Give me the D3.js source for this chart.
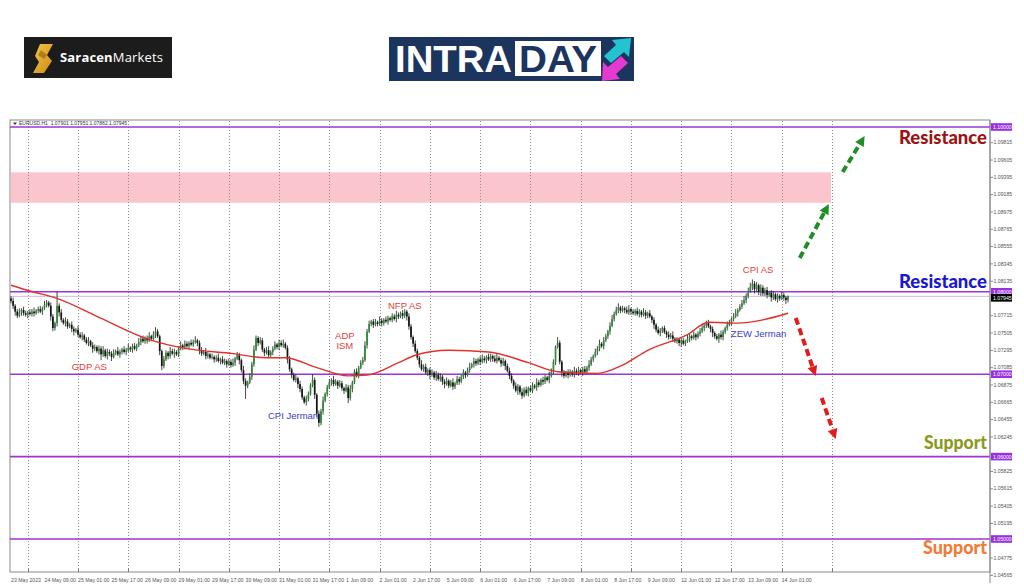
<!DOCTYPE html>
<html>
<head>
<meta charset="utf-8">
<script src="https://d3js.org/d3.v7.min.js"></script>
<style>
  body { margin:0; background:#fff; }
  svg text { font-family: "Liberation Sans", Arial, sans-serif; }
</style>
</head>
<body>
<script>
// ---- data (EURUSD H1) ----
var firstOpen = 1.0792;
var closes = [
  1.0789,1.0783,1.0776,1.0771,1.0775,1.0778,1.0774,1.0772,1.0775,1.0773,1.0776,1.0774,1.0777,1.0779,1.0776,1.0780,1.0784,1.0787,1.0783,1.0770,1.0756,1.0762,1.0783,1.0775,
  1.0766,1.0762,1.0764,1.0758,1.0760,1.0755,1.0752,1.0754,1.0748,1.0745,1.0747,1.0742,1.0738,1.0740,1.0735,1.0731,1.0733,1.0728,1.0731,1.0724,1.0729,1.0722,1.0727,1.0725,
  1.0721,1.0726,1.0728,1.0724,1.0727,1.0730,1.0727,1.0729,1.0732,1.0730,1.0734,1.0731,1.0735,1.0739,1.0743,1.0740,1.0744,1.0741,1.0746,1.0743,1.0748,1.0752,1.0746,1.0728,
  1.0710,1.0718,1.0726,1.0722,1.0728,1.0725,1.0727,1.0724,1.0731,1.0735,1.0733,1.0737,1.0734,1.0738,1.0736,1.0739,1.0741,1.0738,1.0729,1.0725,1.0727,1.0722,1.0724,1.0720,
  1.0721,1.0718,1.0720,1.0716,1.0718,1.0714,1.0716,1.0712,1.0715,1.0711,1.0714,1.0719,1.0723,1.0717,1.0705,1.0692,1.0686,1.0690,1.0697,1.0712,1.0730,1.0744,1.0738,1.0741,
  1.0730,1.0726,1.0729,1.0723,1.0727,1.0731,1.0736,1.0733,1.0738,1.0735,1.0737,1.0732,1.0718,1.0706,1.0699,1.0693,1.0695,1.0688,1.0682,1.0672,1.0666,1.0670,1.0676,1.0687,
  1.0693,1.0675,1.0652,1.0641,1.0655,1.0668,1.0676,1.0684,1.0690,1.0693,1.0688,1.0691,1.0686,1.0689,1.0683,1.0680,1.0684,1.0671,1.0682,1.0690,1.0703,1.0699,1.0708,1.0714,
  1.0717,1.0735,1.0752,1.0761,1.0764,1.0760,1.0763,1.0761,1.0765,1.0762,1.0766,1.0764,1.0768,1.0766,1.0770,1.0767,1.0772,1.0770,1.0774,1.0771,1.0776,1.0770,1.0758,1.0745,
  1.0737,1.0728,1.0720,1.0712,1.0706,1.0709,1.0702,1.0705,1.0699,1.0702,1.0696,1.0699,1.0694,1.0697,1.0691,1.0688,1.0692,1.0686,1.0690,1.0685,1.0689,1.0694,1.0691,1.0697,
  1.0702,1.0699,1.0705,1.0709,1.0712,1.0716,1.0713,1.0718,1.0715,1.0719,1.0717,1.0721,1.0718,1.0722,1.0719,1.0716,1.0720,1.0717,1.0713,1.0716,1.0710,1.0704,1.0698,1.0692,
  1.0686,1.0680,1.0685,1.0678,1.0674,1.0681,1.0677,1.0683,1.0680,1.0686,1.0684,1.0690,1.0687,1.0693,1.0691,1.0696,1.0693,1.0698,1.0703,1.0715,1.0733,1.0738,1.0715,1.0702,
  1.0698,1.0702,1.0699,1.0703,1.0700,1.0704,1.0701,1.0705,1.0702,1.0706,1.0703,1.0708,1.0712,1.0718,1.0722,1.0727,1.0731,1.0737,1.0734,1.0741,1.0746,1.0752,1.0759,1.0767,
  1.0773,1.0778,1.0781,1.0777,1.0780,1.0778,1.0775,1.0779,1.0776,1.0774,1.0777,1.0773,1.0776,1.0772,1.0775,1.0771,1.0774,1.0770,1.0766,1.0760,1.0754,1.0750,1.0753,1.0756,
  1.0751,1.0748,1.0745,1.0747,1.0743,1.0740,1.0742,1.0738,1.0741,1.0737,1.0740,1.0743,1.0746,1.0744,1.0748,1.0745,1.0749,1.0752,1.0756,1.0759,1.0762,1.0758,1.0755,1.0750,
  1.0746,1.0743,1.0748,1.0745,1.0751,1.0756,1.0760,1.0763,1.0767,1.0770,1.0774,1.0778,1.0782,1.0786,1.0790,1.0795,1.0801,1.0806,1.0810,1.0803,1.0808,1.0800,1.0805,1.0798,
  1.0802,1.0796,1.0799,1.0793,1.0797,1.0791,1.0795,1.0792,1.0796,1.0793,1.0790,1.07945
];
// wick lengths in pips above / below the body
var wickUp = [
  3,4,2,3,5,2,4,3,2,4,3,5,2,3,4,2,5,3,2,4,3,2,17,3,
  4,2,5,3,2,4,3,2,5,3,4,2,3,5,2,4,3,2,4,3,5,2,4,3,
  3,4,2,5,3,2,4,3,5,2,3,4,2,5,3,4,2,3,5,2,4,5,3,2,
  2,4,3,2,5,3,4,2,3,5,2,4,3,2,4,3,5,2,3,4,2,5,3,2,
  4,2,3,5,2,4,3,2,4,3,5,2,4,3,2,5,3,2,4,3,5,3,2,4,
  3,2,4,5,2,3,4,2,4,3,5,2,3,4,2,3,5,2,4,3,2,4,3,2,
  7,3,2,4,3,5,2,3,4,2,5,3,2,4,3,2,4,3,5,2,3,4,2,3,
  4,5,3,4,2,3,4,2,5,3,2,4,3,2,4,3,5,3,2,4,3,2,4,3,
  2,4,3,2,5,3,4,2,3,4,2,5,3,4,2,3,4,2,3,5,2,4,3,2,
  4,2,3,5,2,4,3,2,4,5,3,2,4,3,2,4,5,2,3,4,2,3,4,3,
  2,4,3,2,5,3,4,2,3,4,2,5,3,2,4,3,2,5,4,3,2,7,3,2,
  3,2,4,3,2,5,3,4,2,3,4,2,5,3,2,4,3,5,2,4,3,2,4,5,
  3,4,5,2,3,2,4,5,2,3,2,4,3,2,5,3,2,4,2,3,2,4,3,2,
  3,2,4,3,5,2,3,2,4,3,2,5,3,2,4,2,3,4,5,2,3,4,2,3,
  2,3,2,5,3,2,4,3,2,4,5,2,3,4,5,3,4,5,5,3,4,2,4,3,
  3,4,2,3,4,2,3,2,4,3,2,1
];
var wickDn = [
  3,4,5,3,2,4,3,2,4,2,3,4,2,3,2,4,2,3,2,5,4,3,4,5,
  3,2,4,3,2,4,5,2,3,2,4,3,2,4,2,5,3,2,4,7,3,2,4,3,
  5,2,3,2,4,3,2,4,2,3,4,2,3,2,4,2,3,4,2,3,2,4,2,5,
  5,3,2,4,3,2,5,2,3,2,4,3,2,4,2,3,2,4,5,3,2,4,3,2,
  2,4,3,2,4,2,3,4,2,3,2,4,2,5,3,4,16,3,2,4,3,2,4,2,
  3,4,2,3,2,4,2,3,4,2,3,2,5,3,4,2,3,5,4,3,2,4,3,2,
  3,5,4,5,3,4,2,3,2,4,3,2,4,2,3,4,2,6,3,4,2,3,4,2,
  3,2,4,2,3,4,2,3,2,4,3,2,4,2,3,2,4,3,2,4,3,5,4,3,
  4,2,3,4,2,3,2,4,5,2,3,4,2,3,4,5,2,3,2,4,3,2,4,2,
  3,4,2,3,2,4,3,2,4,2,3,4,2,3,4,2,3,2,4,3,5,2,4,3,
  4,2,5,3,4,2,3,4,2,3,2,4,3,2,4,3,2,4,2,3,4,2,3,5,
  3,2,4,2,3,4,2,3,2,4,3,2,4,2,3,2,4,3,2,4,2,3,4,2,
  3,2,4,3,2,4,2,3,4,2,3,2,4,3,2,4,3,2,4,5,3,2,4,3,
  2,4,3,2,4,2,3,4,5,2,3,2,4,3,2,4,2,3,2,4,3,2,4,5,
  3,2,5,3,4,2,3,2,4,3,2,4,2,3,2,4,3,2,4,5,3,4,5,3,
  3,4,2,5,3,2,4,3,2,4,5,3
];
// moving average, [bar, value]
var maPoints = [[0,1.0808],[9,1.0801],[22,1.0792],[42,1.0769],[66,1.0742],[84,1.0731],[106,1.0725],
  [122,1.0720],[131,1.0720],[146,1.0708],[161,1.0698],[170,1.0699],[185,1.0714],[193,1.0723],
  [209,1.0729],[228,1.0727],[247,1.0714],[261,1.0703],[280,1.0701],[292,1.0711],[304,1.0729],
  [323,1.0748],[333,1.0763],[347,1.0762],[359,1.0766],[371,1.0774]];

var levels = [1.10, 1.08, 1.07, 1.06, 1.05];
var lastPrice = 1.07945;
var zone = [1.0908, 1.0945];
var priceTicks = [1.09815,1.09605,1.09395,1.09185,1.08975,1.08765,1.08555,1.08345,1.08135,
  1.07715,1.07505,1.07295,1.07085,1.06875,1.06665,1.06455,1.06245,
  1.05825,1.05615,1.05405,1.05195,1.04775,1.04565];
var timeLabels = ["23 May 2023","24 May 09:00","25 May 01:00","25 May 17:00","26 May 09:00",
  "29 May 01:00","29 May 17:00","30 May 09:00","31 May 01:00","31 May 17:00","1 Jun 09:00",
  "2 Jun 01:00","2 Jun 17:00","5 Jun 09:00","6 Jun 01:00","6 Jun 17:00","7 Jun 09:00",
  "8 Jun 01:00","8 Jun 17:00","9 Jun 09:00","12 Jun 01:00","12 Jun 17:00","13 Jun 09:00","14 Jun 01:00"];
var header = "EURUSD,H1  1.07901 1.07951 1.07882 1.07945";

// event notes: text, bar, price(baseline), colour, anchor
var notes = [
  ["GDP AS", 29, 1.07051, "#e0413b", "start"],
  ["CPI Jerman", 122.7, 1.06456, "#3b3bcf", "start"],
  ["ADP", 159.4, 1.07427, "#e0413b", "middle"],
  ["ISM", 159.4, 1.07306, "#e0413b", "middle"],
  ["NFP AS", 180, 1.07791, "#e0413b", "start"],
  ["CPI AS", 349.4, 1.08228, "#e0413b", "start"],
  ["ZEW Jerman", 343.7, 1.07451, "#3b3bcf", "start"]
];
var bigLabels = [
  ["Resistance", 1.09794, "#9a1414", 88],
  ["Resistance", 1.08046, "#1818d2", 88],
  ["Support", 1.06092, "#8b9a1c", 63],
  ["Support", 1.04818, "#f27a37", 64]
];
// arrows: [bar0, price0, bar1, price1, colour]
var arrows = [
  [376.6, 1.08410, 390.5, 1.09066, "#1f8f25"],
  [397.1, 1.09454, 407.6, 1.09891, "#1f8f25"],
  [374.7, 1.07682, 384.2, 1.06978, "#e31b1b"],
  [387.1, 1.06711, 393.8, 1.06214, "#e31b1b"]
];

// ---- drawing ----
var W = 1024, H = 587;
var plot = {left: 10, right: 990, top: 120, bottom: 572};
var svg = d3.select("body").append("svg").attr("width", W).attr("height", H);

var x = d3.scaleLinear().domain([0, 392]).range([11, 832]);
var y = d3.scaleLinear().domain([1.05, 1.10]).range([539, 127]);
var pip = 0.0001;

var bars = closes.map(function(c, i) {
  var o = i === 0 ? firstOpen : closes[i - 1];
  return {i: i, o: o, c: c,
    h: Math.max(o, c) + wickUp[i] * pip,
    l: Math.min(o, c) - wickDn[i] * pip};
});

// logos
var lg = svg.append("g");
lg.append("rect").attr("x", 24).attr("y", 37).attr("width", 148).attr("height", 41).attr("fill", "#1c1c1c");
var grad = svg.append("defs").append("linearGradient").attr("id", "gold")
  .attr("x1", 0).attr("y1", 0).attr("x2", 1).attr("y2", 1);
grad.append("stop").attr("offset", 0).attr("stop-color", "#f7c948");
grad.append("stop").attr("offset", 1).attr("stop-color", "#c98a12");
lg.append("path").attr("d", "M40,44 L53,44 L47,55 L52,61 L44,73 L33,73 L39,62 L35,56 Z").attr("fill", "url(#gold)");
lg.append("path").attr("d", "M41,50 L47,55 L44,59 L38,55 Z").attr("fill", "#8a5c08").attr("opacity", 0.6);
var st = lg.append("text").attr("x", 60).attr("y", 62).attr("font-size", 13).attr("fill", "#fff")
  .attr("textLength", 103).style("font-family", "'Open Sans', sans-serif");
st.append("tspan").attr("font-weight", "bold").text("Saracen");
st.append("tspan").text("Markets");

var ig = svg.append("g");
ig.append("rect").attr("x", 389).attr("y", 37).attr("width", 245).attr("height", 44).attr("fill", "#1c355e");
ig.append("text").attr("x", 395).attr("y", 72).attr("font-size", 37).attr("font-weight", "bold")
  .attr("fill", "#fff").attr("textLength", 117).attr("lengthAdjust", "spacingAndGlyphs").text("INTRA");
ig.append("rect").attr("x", 515).attr("y", 41).attr("width", 86).attr("height", 35).attr("fill", "#fff");
ig.append("text").attr("x", 519).attr("y", 72).attr("font-size", 37).attr("font-weight", "bold")
  .attr("fill", "#1c355e").attr("textLength", 78).attr("lengthAdjust", "spacingAndGlyphs").text("DAY");
ig.append("polygon").attr("points", "604,56 616,45 612,40 631,38 629,57 624,52 611,63").attr("fill", "#23c4d0");
ig.append("polygon").attr("points", "628,63 616,74 620,79 602,81 603,62 608,67 621,56").attr("fill", "#e43ad0");

// chart frame
svg.append("rect").attr("x", plot.left).attr("y", plot.top)
  .attr("width", plot.right - plot.left).attr("height", plot.bottom - plot.top)
  .attr("fill", "none").attr("stroke", "#8a8a8a").attr("stroke-width", 1);

// resistance zone
svg.append("rect").attr("x", plot.left + 1).attr("y", y(zone[1]))
  .attr("width", x(391.5) - plot.left - 1).attr("height", y(zone[0]) - y(zone[1]))
  .attr("fill", "#fbc5cd");

// vertical dotted grid every 24 bars
var gridBars = d3.range(8, 393, 24);
svg.selectAll(".vgrid").data(gridBars).enter().append("line")
  .attr("class", "vgrid")
  .attr("x1", function(d) { return Math.round(x(d)) + 0.5; })
  .attr("x2", function(d) { return Math.round(x(d)) + 0.5; })
  .attr("y1", plot.top + 1).attr("y2", plot.bottom)
  .attr("stroke", "#8c8c8c").attr("stroke-width", 1).attr("stroke-dasharray", "1,2");

// bid line
svg.append("line").attr("x1", plot.left).attr("x2", plot.right)
  .attr("y1", y(lastPrice)).attr("y2", y(lastPrice))
  .attr("stroke", "#cbbbdc").attr("stroke-width", 1);

// horizontal levels
svg.selectAll(".lvl").data(levels).enter().append("line")
  .attr("class", "lvl")
  .attr("x1", plot.left).attr("x2", plot.right)
  .attr("y1", function(d) { return y(d); }).attr("y2", function(d) { return y(d); })
  .attr("stroke", "#9c34d8").attr("stroke-width", 1.6);

// candles
var cg = svg.append("g");
cg.selectAll(".wick").data(bars).enter().append("line")
  .attr("x1", function(d) { return x(d.i); }).attr("x2", function(d) { return x(d.i); })
  .attr("y1", function(d) { return y(d.h); }).attr("y2", function(d) { return y(d.l); })
  .attr("stroke", "#1a1a1a").attr("stroke-width", 0.8);
cg.selectAll(".body").data(bars).enter().append("rect")
  .attr("x", function(d) { return x(d.i) - 0.85; })
  .attr("width", 1.7)
  .attr("y", function(d) { return y(Math.max(d.o, d.c)); })
  .attr("height", function(d) { return Math.max(0.8, Math.abs(y(d.o) - y(d.c))); })
  .attr("fill", function(d) { return d.c >= d.o ? "#2f8a35" : "#151515"; });

// moving average
var maLine = d3.line()
  .x(function(d) { return x(d[0]); })
  .y(function(d) { return y(d[1]); })
  .curve(d3.curveMonotoneX);
svg.append("path").datum(maPoints).attr("d", maLine)
  .attr("fill", "none").attr("stroke", "#e0302a").attr("stroke-width", 1.4);

// right price axis
var yAxis = d3.axisRight(y).tickValues(priceTicks).tickFormat(d3.format(".5f")).tickSize(3);
var ya = svg.append("g").attr("transform", "translate(" + plot.right + ",0)").call(yAxis);
ya.select(".domain").attr("stroke", "#8a8a8a").attr("d", "M0," + plot.top + "V" + (H - 4));
ya.selectAll(".tick line").attr("stroke", "#8a8a8a");
ya.selectAll(".tick text").attr("font-size", 5.2).attr("fill", "#555").attr("x", 3.5);

// level boxes on axis
var lb = svg.selectAll(".lbox").data(levels).enter().append("g")
  .attr("transform", function(d) { return "translate(" + (plot.right + 1) + "," + y(d) + ")"; });
lb.append("rect").attr("x", 0).attr("y", -3.8).attr("width", 21).attr("height", 7.6).attr("fill", "#9a2fe0");
lb.append("text").attr("x", 2).attr("y", 2).attr("font-size", 5.2).attr("fill", "#fff")
  .text(function(d) { return d3.format(".5f")(d); });
var lp = svg.append("g").attr("transform", "translate(" + (plot.right + 1) + "," + (y(lastPrice) + 1.5) + ")");
lp.append("rect").attr("x", 0).attr("y", -3.8).attr("width", 21).attr("height", 7.6).attr("fill", "#000");
lp.append("text").attr("x", 2).attr("y", 2).attr("font-size", 5.2).attr("fill", "#fff")
  .text(d3.format(".5f")(lastPrice));

// bottom time axis
svg.selectAll(".xtick").data(gridBars).enter().append("line")
  .attr("x1", function(d) { return Math.round(x(d)) + 0.5; })
  .attr("x2", function(d) { return Math.round(x(d)) + 0.5; })
  .attr("y1", plot.bottom - 3).attr("y2", plot.bottom)
  .attr("stroke", "#777");
svg.selectAll(".xlab").data(timeLabels).enter().append("text")
  .attr("x", function(d, i) { return x(i * 16); })
  .attr("y", plot.bottom + 10)
  .attr("font-size", 5.2).attr("fill", "#555")
  .text(function(d) { return d; });

// header
svg.append("path").attr("d", "M13,122.5 L17,122.5 L15,125 Z").attr("fill", "#333");
svg.append("text").attr("x", 19).attr("y", 125).attr("font-size", 5).attr("fill", "#333")
  .attr("xml:space", "preserve").text(header);

// event notes
svg.selectAll(".note").data(notes).enter().append("text")
  .attr("x", function(d) { return x(d[1]); })
  .attr("y", function(d) { return y(d[2]); })
  .attr("text-anchor", function(d) { return d[4]; })
  .attr("font-size", 9.5).attr("fill", function(d) { return d[3]; })
  .text(function(d) { return d[0]; });

// big labels
svg.selectAll(".big").data(bigLabels).enter().append("text")
  .attr("x", function(d) { return plot.right - 3 - d[3]; })
  .attr("y", function(d) { return y(d[1]); })
  .attr("textLength", function(d) { return d[3]; })
  .attr("lengthAdjust", "spacingAndGlyphs")
  .attr("font-size", 18).attr("font-weight", 900)
  .style("font-family", "Lato, 'Open Sans', sans-serif")
  .attr("fill", function(d) { return d[2]; })
  .text(function(d) { return d[0]; });

// dashed arrows
arrows.forEach(function(a) {
  var x0 = x(a[0]), y0 = y(a[1]), x1 = x(a[2]), y1 = y(a[3]);
  var ang = Math.atan2(y1 - y0, x1 - x0);
  var hl = 10, hw = 5;
  var bx = x1 - hl * Math.cos(ang), by = y1 - hl * Math.sin(ang);
  svg.append("line").attr("x1", x0).attr("y1", y0).attr("x2", bx).attr("y2", by)
    .attr("stroke", a[4]).attr("stroke-width", 4).attr("stroke-dasharray", "7,4");
  var px = -Math.sin(ang) * hw, py = Math.cos(ang) * hw;
  svg.append("polygon")
    .attr("points", [[x1, y1], [bx + px, by + py], [bx - px, by - py]].map(function(p) { return p.join(","); }).join(" "))
    .attr("fill", a[4]);
});
</script>
</body>
</html>
